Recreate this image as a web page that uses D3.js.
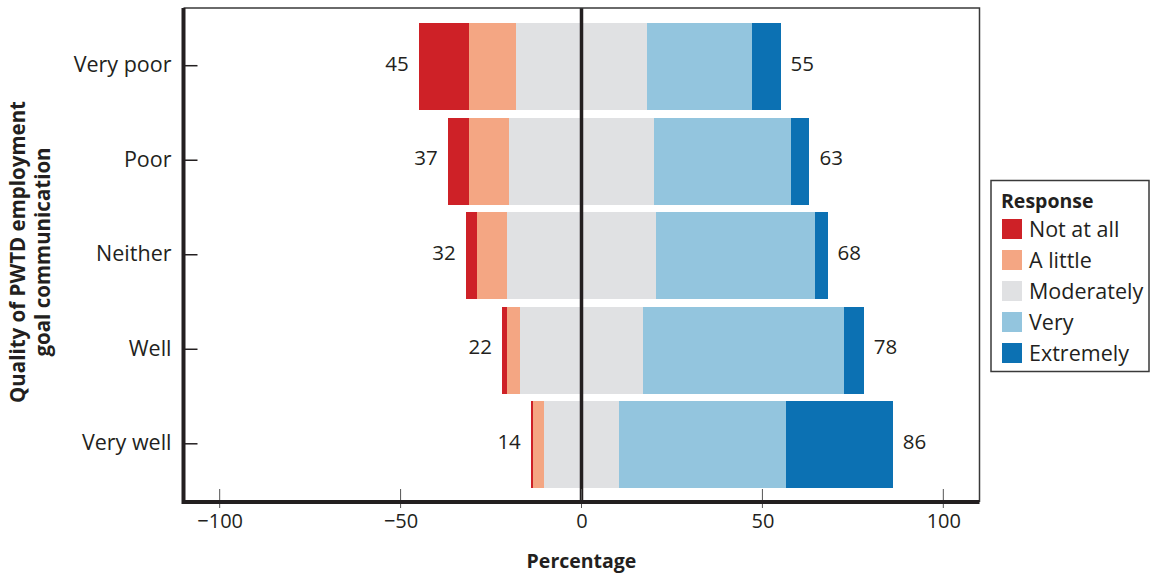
<!DOCTYPE html>
<html><head><meta charset="utf-8">
<script src="https://cdn.jsdelivr.net/npm/d3@7"></script>
<style>
body{margin:0;background:#fff;}
text{font-family:"Open Sans","Noto Sans",sans-serif;fill:#231f20;}
</style></head>
<body><svg id="c" width="1151" height="576"></svg>
<script>
const categories = ["Very poor","Poor","Neither","Well","Very well"];
const responses = ["Not at all","A little","Moderately","Very","Extremely"];
const notAtAll   = [14, 6, 3, 1.5, 0.5];
const aLittle    = [13, 11, 8.5, 3.5, 3];
const moderately = [36, 40, 41, 34, 21];
const very       = [29, 38, 44, 55.5, 46];
const extremely  = [8, 5, 3.5, 5.5, 29.5];
const negLabels  = [45, 37, 32, 22, 14];
const posLabels  = [55, 63, 68, 78, 86];
const xTicks     = [-100, -50, 0, 50, 100];
const colors = ["#ce2127","#f4a683","#e0e1e3","#93c5de","#0c71b3"];

const svg = d3.select("#c");
const L = 183.5, R = 979.5, T = 8, B = 502;
const x = d3.scaleLinear().domain([-110, 110]).range([L, R]);
const y = d3.scaleBand().domain(categories).range([18.5, 493]).paddingInner(0.08).paddingOuter(0.05);

const segs = [];
categories.forEach((c, i) => {
  const vals = [notAtAll[i], aLittle[i], moderately[i], very[i], extremely[i]];
  let start = -(vals[0] + vals[1] + vals[2] / 2);
  vals.forEach((v, k) => {
    segs.push({c, k, x0: start, x1: start + v});
    start += v;
  });
});

svg.append("g").selectAll("rect").data(segs).join("rect")
  .attr("x", d => x(d.x0)).attr("width", d => x(d.x1) - x(d.x0))
  .attr("y", d => y(d.c)).attr("height", y.bandwidth())
  .attr("fill", d => colors[d.k]).attr("shape-rendering","crispEdges");

svg.append("g").selectAll("text").data(categories).join("text")
  .attr("x", (c, i) => x(-negLabels[i]) - 10)
  .attr("y", c => y(c) + y.bandwidth() / 2 - 3)
  .attr("dy", "0.35em").attr("text-anchor", "end").attr("font-size", 20.5)
  .text((c, i) => negLabels[i]);
svg.append("g").selectAll("text").data(categories).join("text")
  .attr("x", (c, i) => x(posLabels[i]) + 10)
  .attr("y", c => y(c) + y.bandwidth() / 2 - 3)
  .attr("dy", "0.35em").attr("text-anchor", "start").attr("font-size", 20.5)
  .text((c, i) => posLabels[i]);

svg.append("line").attr("x1", x(0)).attr("x2", x(0)).attr("y1", T).attr("y2", B)
  .attr("stroke", "#231f20").attr("stroke-width", 3.5);

svg.append("path").attr("d", `M${L},${T}H${R}V${B}`).attr("fill","none")
  .attr("stroke","#3a3a3a").attr("stroke-width",1.5);

const xa = svg.append("g").attr("transform", `translate(0,${B})`)
  .call(d3.axisBottom(x).tickValues(xTicks).tickSize(0).tickPadding(12)
    .tickFormat(d => d < 0 ? "\u2212" + Math.abs(d) : d));
xa.select(".domain").remove();
xa.selectAll("text").attr("font-size", 20).attr("font-family", null).attr("fill", "#231f20");
svg.append("g").selectAll("line").data(xTicks).join("line")
  .attr("x1", d => x(d)).attr("x2", d => x(d)).attr("y1", B - 13).attr("y2", B + 6)
  .attr("stroke", "#555").attr("stroke-width", 1);

const ya = svg.append("g").attr("transform", `translate(${L},0)`)
  .call(d3.axisLeft(y).tickSize(0).tickPadding(12));
ya.select(".domain").remove();
ya.selectAll("text").attr("font-size", 21.5).attr("font-family", null).attr("fill", "#231f20")
  .attr("dy", "0.25em");
svg.append("g").selectAll("line").data(categories).join("line")
  .attr("x1", L).attr("x2", L + 14)
  .attr("y1", c => y(c) + y.bandwidth() / 2 - 1).attr("y2", c => y(c) + y.bandwidth() / 2 - 1)
  .attr("stroke", "#231f20").attr("stroke-width", 1.5);

svg.append("path").attr("d", `M${L},${T}V${B}H${R}`).attr("fill","none")
  .attr("stroke","#231f20").attr("stroke-width",4);

svg.append("text").attr("x", x(0)).attr("y", 568).attr("text-anchor","middle")
  .attr("font-size", 19.5).attr("font-weight", "bold").text("Percentage");
const yt = svg.append("text").attr("transform", "translate(0,252) rotate(-90)")
  .attr("text-anchor","middle").attr("font-size", 20.5).attr("font-weight","bold");
yt.append("tspan").attr("x", 0).attr("y", 25).text("Quality of PWTD employment");
yt.append("tspan").attr("x", 0).attr("y", 50).text("goal communication");

const lg = svg.append("g");
lg.append("rect").attr("x", 991).attr("y", 180.5).attr("width", 158).attr("height", 191)
  .attr("fill","#fff").attr("stroke","#3a3a3a").attr("stroke-width",1.5);
lg.append("text").attr("x", 1001).attr("y", 208).attr("font-size", 19.5).attr("font-weight","bold").text("Response");
const items = lg.selectAll("g.it").data(responses).join("g").attr("class","it")
  .attr("transform", (d, i) => `translate(1002,${219 + i * 31})`);
items.append("rect").attr("width", 20).attr("height", 20).attr("fill", (d, i) => colors[i]);
items.append("text").attr("x", 27).attr("y", 10).attr("dy","0.35em").attr("font-size", 21.5).text(d => d);
</script></body></html>
